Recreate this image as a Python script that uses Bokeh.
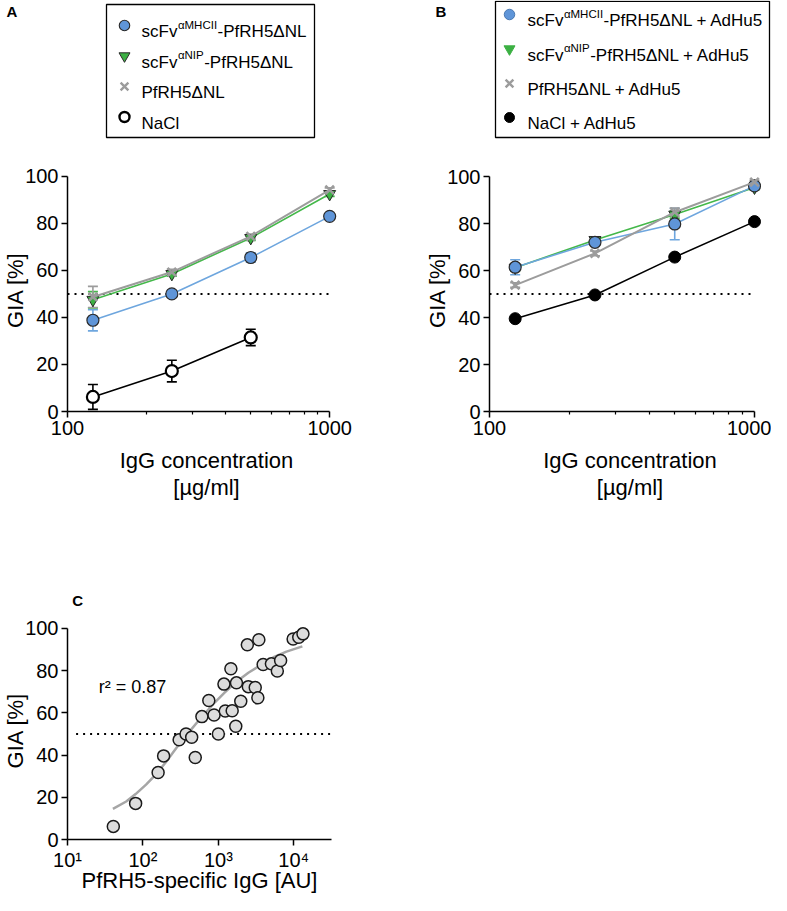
from bokeh.plotting import figure
from bokeh.models import ColumnDataSource, Range1d, FixedTicker, Whisker, TeeHead, Label
from bokeh.layouts import row, column
from bokeh.embed import file_html
from bokeh.resources import INLINE
from bokeh.core.properties import value

FONT = "Liberation Sans"

# ---------------- data ----------------
conc = [125, 250, 500, 1000]
conc_nacl_a = [125, 250, 500]

a_mhcii = [38.8, 50.0, 65.5, 83.0]
a_mhcii_err = [4.5, 1.0, 2.0, 0.8]
a_nip = [47.5, 58.5, 73.8, 92.5]
a_nip_err = [3.5, 1.0, 1.0, 1.0]
a_rh5 = [48.7, 59.3, 74.5, 94.3]
a_rh5_err = [4.5, 1.2, 1.0, 0.8]
a_nacl = [6.2, 17.2, 31.5]
a_nacl_err = [5.3, 4.6, 3.5]

b_mhcii = [61.4, 72.0, 79.8, 96.0]
b_mhcii_err = [3.2, 1.0, 6.7, 1.0]
b_nip = [61.2, 73.0, 83.8, 95.3]
b_nip_err = [1.5, 1.0, 1.5, 1.0]
b_rh5 = [53.8, 67.3, 84.8, 97.6]
b_rh5_err = [1.0, 1.0, 1.8, 0.8]
b_nacl = [39.5, 49.6, 65.7, 80.8]

igg_au = [40.5, 80, 159, 188, 302, 373, 443, 494, 605, 747, 877, 1000, 1186, 1235,
          1466, 1525, 1702, 1738, 1982, 2422, 2496, 3083, 3340, 3443, 3925, 5050,
          6050, 6690, 9800, 11640, 13240]
gia_c = [6.2, 17.1, 31.7, 39.6, 47.2, 50.0, 48.4, 38.8, 58.2, 65.8, 59.0, 50.0, 73.6,
         60.9, 80.9, 61.0, 53.6, 74.2, 65.5, 92.2, 72.4, 72.0, 67.1, 94.6, 82.9, 83.2,
         79.8, 84.8, 95.0, 95.8, 97.4]

fit_x = [40, 60, 80, 110, 150, 200, 300, 400, 600, 900, 1200, 1700, 2500, 3800, 5500, 8000, 13000]
fit_y = [14.5, 18, 21.5, 26, 31, 36.5, 45, 50.5, 58, 65, 69.5, 74.5, 79, 83, 86.5, 89, 91.5]
r2_text = "r² = 0.87"

threshold = 50
gia_ticks = [0, 20, 40, 60, 80, 100]
conc_ticks = [100, 1000]
conc_tick_labels = ["100", "1000"]
conc_minor = [200, 300, 400, 500, 600, 700, 800, 900]
au_ticks = [10, 100, 1000, 10000]
au_tick_labels = ["10¹", "10²", "10³", "10⁴"]

legA_pre = ["scFv", "scFv", "PfRH5ΔNL", "NaCl"]
legA_sup = ["αMHCII", "αNIP", "", ""]
legA_post = ["-PfRH5ΔNL", "-PfRH5ΔNL", "", ""]
legB_pre = ["scFv", "scFv", "PfRH5ΔNL + AdHu5", "NaCl + AdHu5"]
legB_sup = ["αMHCII", "αNIP", "", ""]
legB_post = ["-PfRH5ΔNL + AdHu5", "-PfRH5ΔNL + AdHu5", "", ""]

ylabel = "GIA [%]"
xlabel_ab = "IgG concentration\n[µg/ml]"
xlabel_c = "PfRH5-specific IgG [AU]"

# ---------------- styles ----------------
BLUE_F, BLUE_L = "#5f95d8", "#6ea6de"
GREEN_F, GREEN_L = "#3cb043", "#44b84a"
GRAY = "#9c9c9c"
EDGE = "#2a2a2a"

CW = {'s': 500, 'c': 500, 'F': 611, 'v': 500, 'α': 578, 'M': 833, 'H': 722, 'C': 722,
      'I': 278, 'N': 722, 'P': 667, '-': 333, 'f': 278, 'R': 722, '5': 556, 'Δ': 668,
      'L': 556, ' ': 278, '+': 584, 'A': 667, 'd': 556, 'u': 556}


def tw(s, size):
    return sum(CW.get(ch, 556) for ch in s) * size / 1000.0


def pixel_fig(w, h):
    f = figure(width=w, height=h, x_range=Range1d(0, w), y_range=Range1d(h, 0),
               output_backend="svg", toolbar_location=None, min_border=0,
               x_axis_location=None, y_axis_location=None)
    f.grid.visible = False
    f.outline_line_color = None
    return f


def draw_legend(f, box, ys, mx, tx, markers, pre, sup, post):
    f.quad(left=[box[0]], right=[box[1]], top=[box[2]], bottom=[box[3]],
           fill_color=None, line_color="black", line_width=1.3)
    for y, mk, a, b, c in zip(ys, markers, pre, sup, post):
        f.scatter([mx], [y], marker=mk[0], size=mk[1], fill_color=mk[2],
                  line_color=mk[3], line_width=mk[4])
        base = y + 6
        common = dict(text_font=value(FONT), text_color="black", text_align="left",
                      text_baseline="alphabetic")
        f.text([tx], [base], text=[a], text_font_size=value("17px"), **common)
        if b:
            sx = tx + tw(a, 17) + 0.5
            f.text([sx], [base - 7], text=[b], text_font_size=value("11.5px"), **common)
            px = sx + tw(b, 11.5) + 0.5
            f.text([px], [base], text=[c], text_font_size=value("17px"), **common)


def panel_label(f, x, y, t):
    f.text([x], [y], text=[t], text_font=value(FONT), text_font_size=value("15px"),
           text_font_style="bold", text_color="black", text_align="left",
           text_baseline="alphabetic")


def style_axes(p, xticks, xminor, xlabels, xbounds, xlab):
    for ax in (p.xaxis[0], p.yaxis[0]):
        ax.axis_line_width = 1.5
        ax.axis_line_color = "black"
        ax.major_tick_line_width = 1.5
        ax.major_tick_line_color = "black"
        ax.major_tick_out = 6
        ax.major_tick_in = 0
        ax.minor_tick_line_width = 1.2
        ax.minor_tick_line_color = "black"
        ax.minor_tick_out = 3
        ax.minor_tick_in = 0
        ax.major_label_text_font = FONT
        ax.major_label_text_font_size = "20px"
        ax.major_label_text_color = "black"
        ax.major_label_standoff = 3
        ax.axis_label_text_font = FONT
        ax.axis_label_text_font_size = "22px"
        ax.axis_label_text_font_style = "normal"
        ax.axis_label_text_color = "black"
    p.xaxis.ticker = FixedTicker(ticks=xticks, minor_ticks=xminor)
    p.xaxis.major_label_overrides = dict(zip(xticks, xlabels))
    p.xaxis.bounds = xbounds
    p.xaxis.axis_label = xlab
    p.xaxis.axis_label_standoff = 10
    p.xaxis.axis_label_text_line_height = 1.1
    p.yaxis.ticker = FixedTicker(ticks=gia_ticks, minor_ticks=[])
    p.yaxis.bounds = (gia_ticks[0], gia_ticks[-1])
    p.yaxis.axis_label = ylabel
    p.yaxis.axis_label_standoff = -6
    p.grid.visible = False
    p.outline_line_color = None


def errbars(p, xs, ys, errs, color):
    src = ColumnDataSource(dict(x=xs, upper=[y + e for y, e in zip(ys, errs)],
                                lower=[y - e for y, e in zip(ys, errs)]))
    w = Whisker(base="x", upper="upper", lower="lower", source=src, dimension="height",
                line_color=color, line_width=1.6, level="underlay",
                upper_head=TeeHead(size=10, line_color=color, line_width=1.6),
                lower_head=TeeHead(size=10, line_color=color, line_width=1.6))
    p.add_layout(w)


def series(p, xs, ys, errs, kind):
    if kind == "mhcii":
        errbars(p, xs, ys, errs, BLUE_L)
        p.line(xs, ys, line_color=BLUE_L, line_width=1.6)
        p.scatter(xs, ys, marker="circle", size=12, fill_color=BLUE_F, line_color=EDGE, line_width=1.2)
    elif kind == "nip":
        errbars(p, xs, ys, errs, GREEN_L)
        p.line(xs, ys, line_color=GREEN_L, line_width=1.6)
        p.scatter(xs, ys, marker="inverted_triangle", size=12, fill_color=GREEN_F, line_color=EDGE, line_width=1.0)
    elif kind == "rh5":
        errbars(p, xs, ys, errs, GRAY)
        p.line(xs, ys, line_color=GRAY, line_width=2.0)
        p.scatter(xs, ys, marker="x", size=12, line_color=GRAY, line_width=2.5)
    elif kind == "nacl_open":
        errbars(p, xs, ys, errs, "black")
        p.line(xs, ys, line_color="black", line_width=1.6)
        p.scatter(xs, ys, marker="circle", size=12, fill_color="white", line_color="black", line_width=2.2)
    elif kind == "nacl_fill":
        p.line(xs, ys, line_color="black", line_width=1.6)
        p.scatter(xs, ys, marker="circle", size=12, fill_color="black", line_color="black", line_width=1.0)


# ---------------- legends (row 1) ----------------
legA = pixel_fig(382, 152)
panel_label(legA, 6, 11, "A")
draw_legend(legA, (106, 314, 4, 137), [25, 55.5, 86, 116.5], 124, 141,
            [("circle", 10.5, BLUE_F, EDGE, 1.1), ("inverted_triangle", 11, GREEN_F, EDGE, 1.0),
             ("x", 11, None, GRAY, 2.4), ("circle", 10, "white", "black", 2.4)],
            legA_pre, legA_sup, legA_post)

legB = pixel_fig(389, 152)
panel_label(legB, 53, 11, "B")
draw_legend(legB, (113, 387, 0.8, 137), [14, 48.5, 83, 117], 127, 145,
            [("circle", 10.5, BLUE_F, "#4a78b0", 1.0), ("inverted_triangle", 11, GREEN_F, GREEN_F, 1.0),
             ("x", 11, None, GRAY, 2.4), ("circle", 10, "black", "black", 1.0)],
            legB_pre, legB_sup, legB_post)

# ---------------- panel A ----------------
x_end_ab = conc_ticks[-1] * 10 ** (16 / 265)
pA = figure(width=382, height=400, x_axis_type="log",
            x_range=Range1d(conc_ticks[0], x_end_ab), y_range=Range1d(0, 100 + 8 / 2.39),
            output_backend="svg", toolbar_location=None,
            min_border_left=64, min_border_right=37, min_border_top=12, min_border_bottom=141)
style_axes(pA, conc_ticks, conc_minor, conc_tick_labels, (conc_ticks[0], conc_ticks[-1]), xlabel_ab)
pA.line(conc_ticks, [threshold, threshold], line_color="black", line_width=2, line_dash="2 5")
series(pA, conc_nacl_a, a_nacl, a_nacl_err, "nacl_open")
series(pA, conc, a_nip, a_nip_err, "nip")
series(pA, conc, a_mhcii, a_mhcii_err, "mhcii")
series(pA, conc, a_rh5, a_rh5_err, "rh5")

# ---------------- panel B ----------------
pB = figure(width=389, height=400, x_axis_type="log",
            x_range=Range1d(conc_ticks[0], x_end_ab), y_range=Range1d(0, 100 + 8 / 2.35),
            output_backend="svg", toolbar_location=None,
            min_border_left=107, min_border_right=1, min_border_top=16, min_border_bottom=141)
style_axes(pB, conc_ticks, conc_minor, conc_tick_labels, (conc_ticks[0], conc_ticks[-1]), xlabel_ab)
pB.line(conc_ticks, [threshold, threshold], line_color="black", line_width=2, line_dash="2 5")
series(pB, conc, b_nacl, None, "nacl_fill")
series(pB, conc, b_nip, b_nip_err, "nip")
series(pB, conc, b_mhcii, b_mhcii_err, "mhcii")
series(pB, conc, b_rh5, b_rh5_err, "rh5")

# ---------------- panel C ----------------
headC = pixel_fig(382, 60)
panel_label(headC, 7, 48, "C")

x_end_c = 10 ** 4.5
pC = figure(width=382, height=283, x_axis_type="log",
            x_range=Range1d(au_ticks[0], x_end_c), y_range=Range1d(0, 100 + 7 / 2.15),
            output_backend="svg", toolbar_location=None,
            min_border_left=65, min_border_right=51, min_border_top=9, min_border_bottom=52)
style_axes(pC, au_ticks, [], au_tick_labels, (au_ticks[0], x_end_c), xlabel_c)
pC.xaxis.axis_label_standoff = -6
pC.line([au_ticks[0] * 1.3, x_end_c], [threshold, threshold], line_color="black", line_width=2, line_dash="2 5")
pC.line(fit_x, fit_y, line_color="#a6a6a6", line_width=2.5)
pC.scatter(igg_au, gia_c, marker="circle", size=12, fill_color="#dcdcdc", line_color="#1a1a1a", line_width=1.5)
pC.add_layout(Label(x=26, y=72, text=r2_text, text_font=FONT, text_font_size="18px",
                    text_color="black", text_baseline="middle", text_align="left"))

layout = column(row(legA, legB), row(pA, pB), column(headC, pC))

open("out.html", "w").write(file_html(layout, INLINE))
